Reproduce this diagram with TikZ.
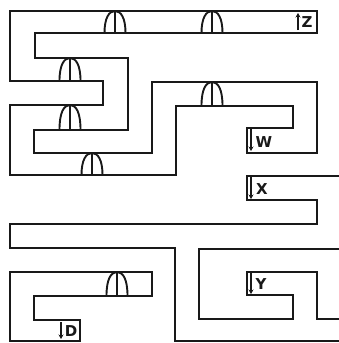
\documentclass[tikz,border=0pt]{standalone}
\usepackage{fontspec}
\setmainfont{DejaVu Sans}
\usetikzlibrary{arrows.meta}
\begin{document}
\begin{tikzpicture}[x=1pt,y=-1pt,
  wall/.style={line width=2pt, draw=black!90, line join=miter},
  archline/.style={line width=1.9pt, draw=black!90},
  lbl/.style={font=\fontsize{15}{15}\selectfont\bfseries, inner sep=0pt, text=black!90},
  tag/.style={line width=1.5pt, draw=black!90, -{Stealth[length=4.5pt,width=5pt]}},
  arch/.pic={
    \draw[archline] (-10.5,#1) .. controls (-10.5,7) and (-6,0) .. (0,0)
                    .. controls (6,0) and (10.5,7) .. (10.5,#1);
    \draw[archline] (0,0) -- (0,#1);
  }]
\useasboundingbox[fill=white] (0,0) rectangle (339,343);
% upper folded band
\draw[wall] (10,11) -- (317,11) -- (317,33) -- (35,33) -- (35,58) -- (128,58)
  -- (128,130) -- (34,130) -- (34,153) -- (152,153) -- (152,82) -- (317,82)
  -- (317,153) -- (247,153) -- (247,128) -- (293,128) -- (293,106) -- (176,106)
  -- (176,175) -- (10,175) -- (10,105) -- (103,105) -- (103,81) -- (10,81) -- cycle;
% middle band
\draw[wall] (339,176) -- (247,176) -- (247,200) -- (317,200) -- (317,224)
  -- (10,224) -- (10,248) -- (175,248) -- (175,341) -- (339,341);
% lower right band
\draw[wall] (339,249) -- (199,249) -- (199,319) -- (293,319) -- (293,295)
  -- (247,295) -- (247,272) -- (317,272) -- (317,319) -- (339,319);
% lower left band
\draw[wall] (10,272) -- (152,272) -- (152,296) -- (34,296) -- (34,320)
  -- (80,320) -- (80,341) -- (10,341) -- cycle;
% crossings
\pic at (115,11) {arch=22};
\pic at (212,11) {arch=22};
\pic at (70,58) {arch=23};
\pic at (70,105) {arch=25};
\pic at (92,153) {arch=22};
\pic at (212,82) {arch=24};
\pic at (117,272) {arch=24};
% labels
\coordinate (z0) at (298,30); \coordinate (z1) at (298,13);
\draw[tag] (z0) -- (z1);
\node[lbl] (z) at (307,22) {Z};
\coordinate (w0) at (251,129); \coordinate (w1) at (251,151);
\draw[tag] (w0) -- (w1);
\node[lbl] (w) at (264,142) {W};
\coordinate (x0) at (251,177); \coordinate (x1) at (251,199);
\draw[tag] (x0) -- (x1);
\node[lbl] (x) at (262,189) {X};
\coordinate (y0) at (251,273); \coordinate (y1) at (251,294);
\draw[tag] (y0) -- (y1);
\node[lbl] (y) at (261,284) {Y};
\coordinate (d0) at (61,322); \coordinate (d1) at (61,339);
\draw[tag] (d0) -- (d1);
\node[lbl] (d) at (71,331) {D};
\end{tikzpicture}
\end{document}
